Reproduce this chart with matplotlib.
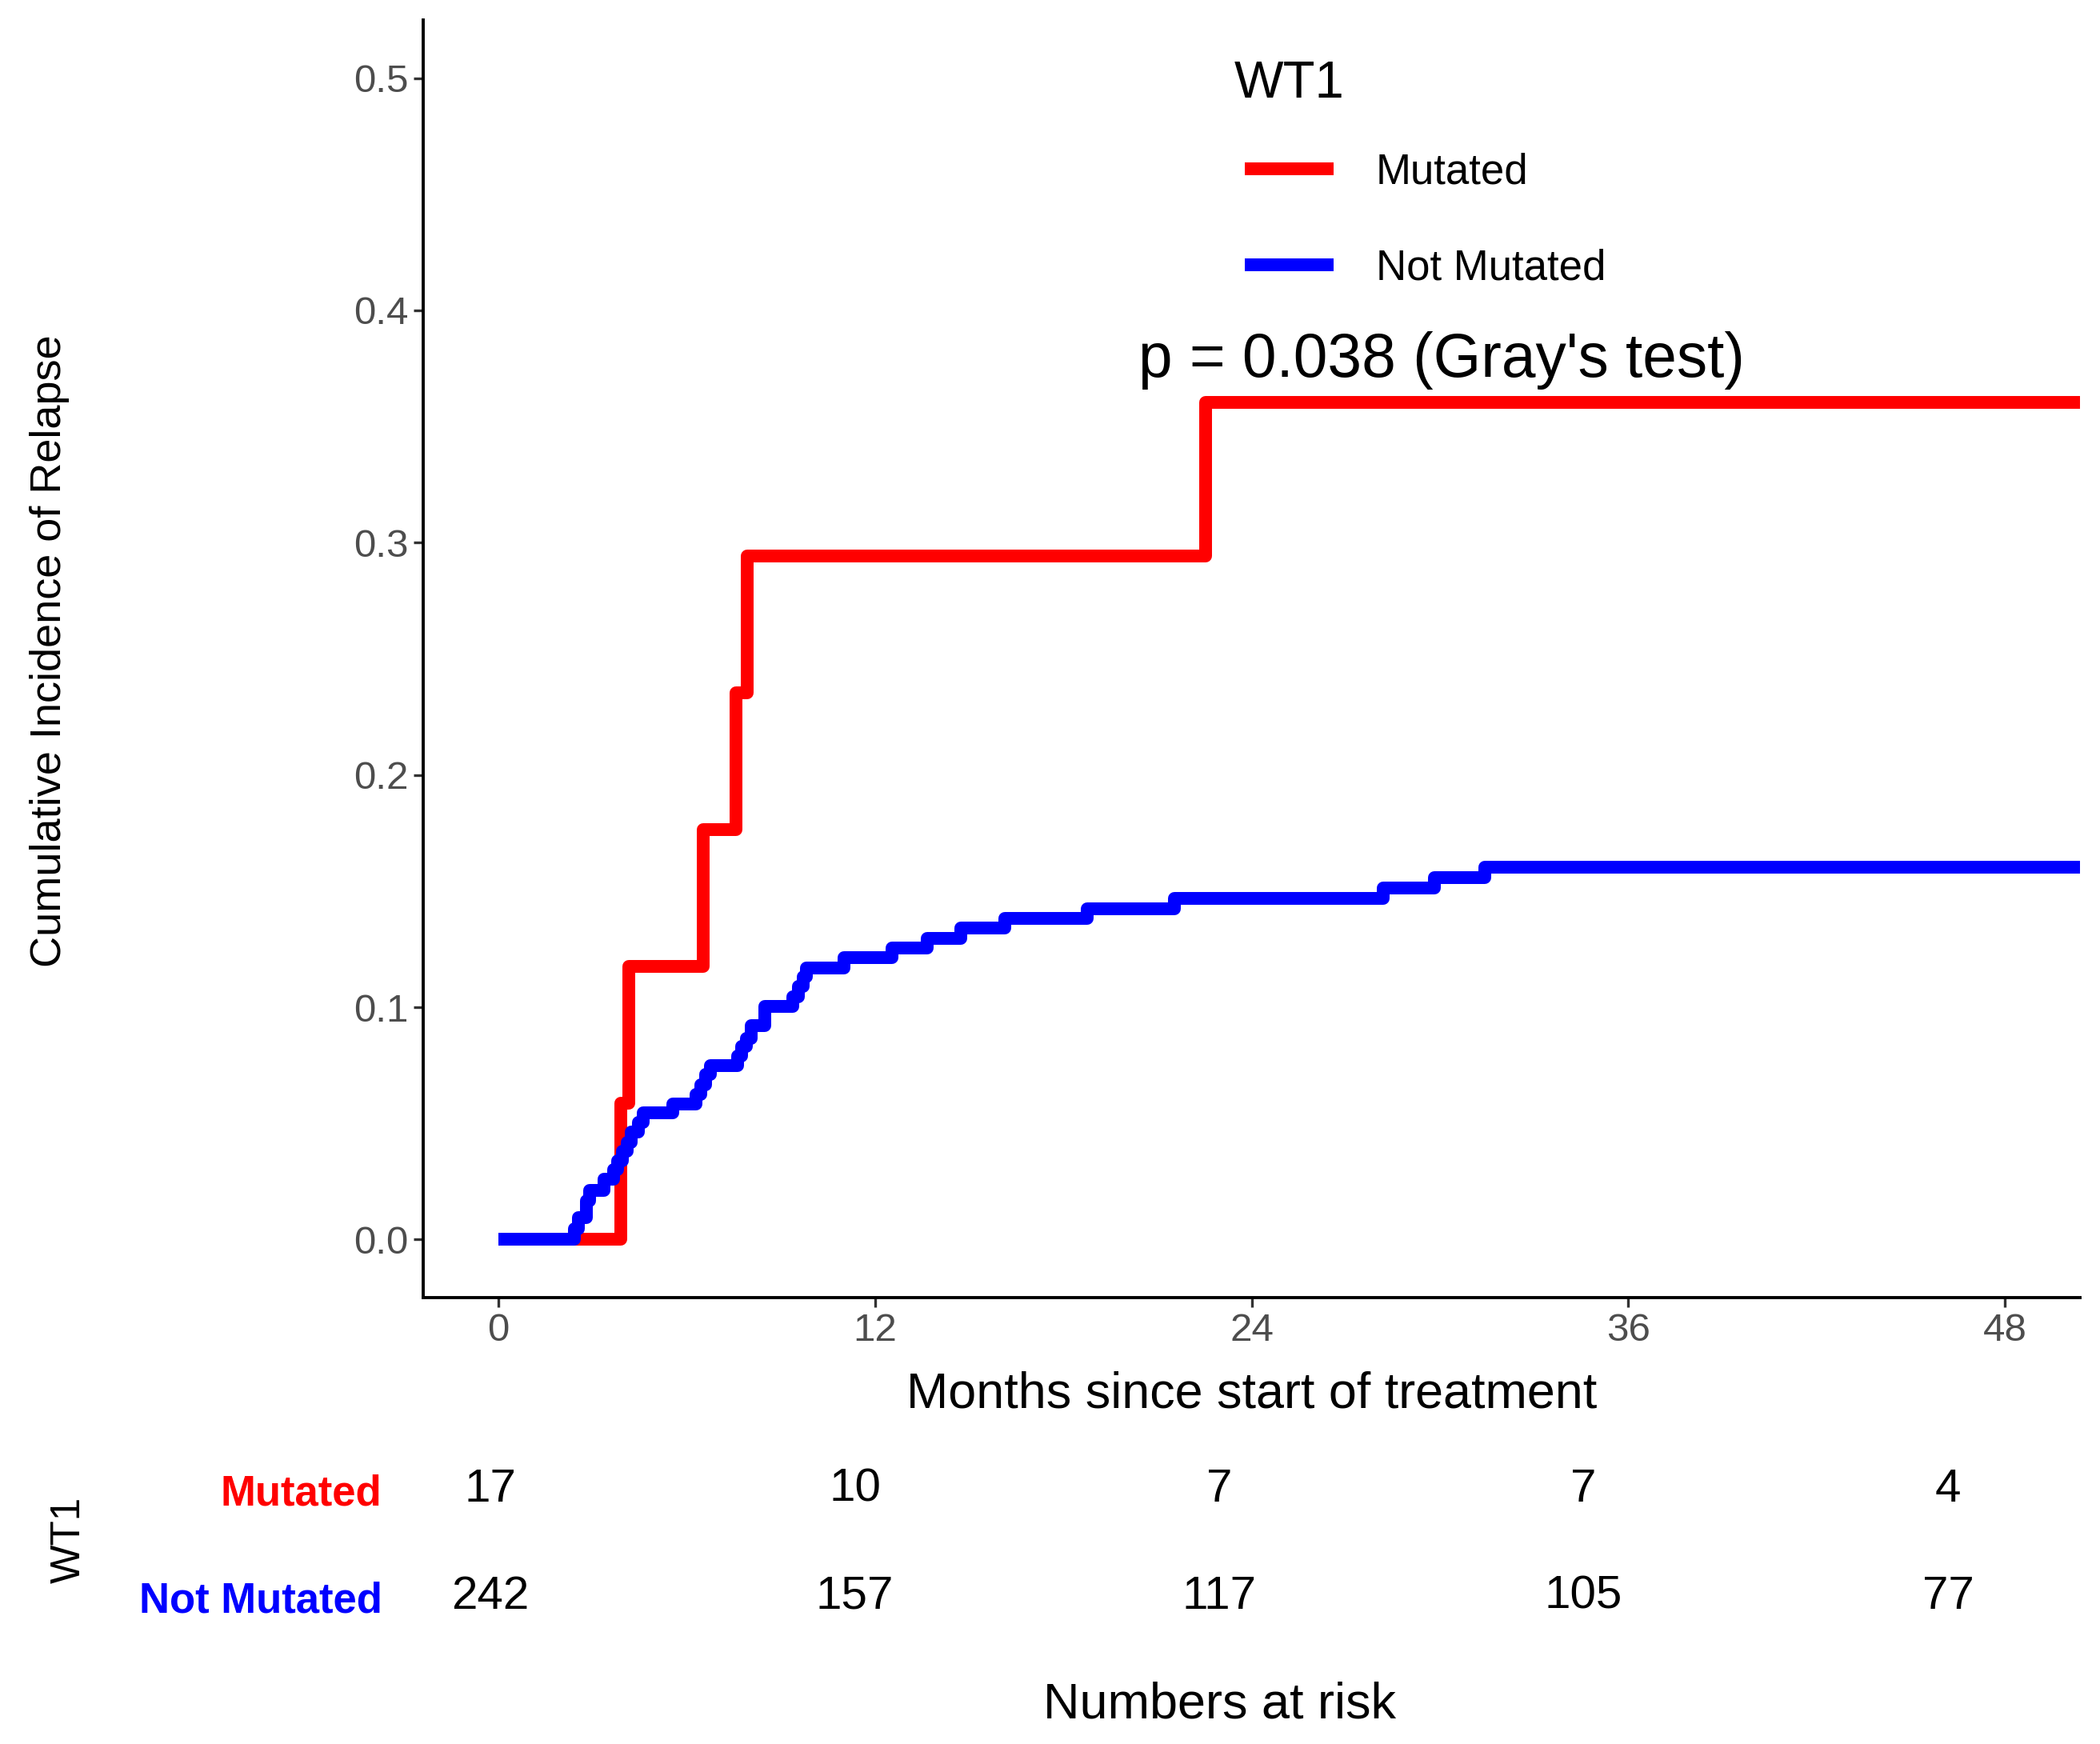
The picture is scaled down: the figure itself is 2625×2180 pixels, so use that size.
import matplotlib
matplotlib.use("Agg")
import matplotlib.pyplot as plt

plt.rcParams['font.family'] = ['Liberation Sans', 'DejaVu Sans']

# ---------------- data ----------------
groups = ["Mutated", "Not Mutated"]
colors = ["#FF0000", "#0000FF"]

mut_times = [0, 3.9, 4.15, 6.52, 7.58, 7.92, 22.53, 52]
mut_cif = [0.0, 0.0588, 0.1176, 0.1765, 0.2353, 0.2941, 0.3603, 0.3603]

notmut_times = [0, 2.42, 2.55, 2.80, 2.90, 3.37, 3.66, 3.80, 3.95, 4.10, 4.24,
                4.45, 4.61, 5.56, 6.30, 6.45, 6.60, 6.75, 7.61, 7.75, 7.90,
                8.05, 8.49, 9.37, 9.55, 9.70, 9.81, 11.0, 12.55, 13.65, 14.74,
                16.14, 18.77, 21.55, 28.2, 29.83, 31.44, 52]
notmut_cif = [0.0, 0.0046, 0.0093, 0.0165, 0.0213, 0.0259, 0.0300, 0.0340,
              0.0380, 0.0419, 0.0464, 0.0505, 0.0545, 0.0585, 0.0625, 0.0667,
              0.0710, 0.0750, 0.0790, 0.0830, 0.0865, 0.0922, 0.1002, 0.1045,
              0.1090, 0.1130, 0.1168, 0.1214, 0.1256, 0.1297, 0.1340, 0.1383,
              0.1425, 0.1469, 0.1514, 0.1557, 0.1603, 0.1603]

risk_times = [0, 12, 24, 36, 48]
risk_mut = [17, 10, 7, 7, 4]
risk_notmut = [242, 157, 117, 105, 77]

x_ticks = [0, 12, 24, 36, 48]
y_ticks = [0.0, 0.1, 0.2, 0.3, 0.4, 0.5]
p_text = "p = 0.038 (Gray's test)"
legend_title = "WT1"

# ---------------- figure ----------------
W, H = 2625, 2180
fig = plt.figure(figsize=(W / 100, H / 100), dpi=100)

ax = fig.add_axes([529 / W, 1 - 1622 / H, (2600 - 529) / W, (1622 - 25) / H])
lw = 11.5
l1, = ax.step(mut_times, mut_cif, where='post', color=colors[0], lw=lw,
              solid_joinstyle='round', solid_capstyle='butt', label=groups[0])
l2, = ax.step(notmut_times, notmut_cif, where='post', color=colors[1], lw=lw,
              solid_joinstyle='round', solid_capstyle='butt', label=groups[1])

ax.set_xlim(-2.4, 50.4)
ax.set_ylim(-0.025, 0.525)
ax.set_xticks(x_ticks)
ax.set_xticklabels([str(t) for t in x_ticks])
ax.set_yticks(y_ticks)
ax.set_yticklabels([f"{v:.1f}" for v in y_ticks])
for s in ['top', 'right']:
    ax.spines[s].set_visible(False)
for s in ['left', 'bottom']:
    ax.spines[s].set_linewidth(2.8)
    ax.spines[s].set_color('black')
ax.tick_params(axis='both', length=8.5, width=2.4, color='#333333',
               labelcolor='#4D4D4D', labelsize=35.5, pad=5)

ax.set_xlabel("Months since start of treatment", fontsize=45.3)
ax.xaxis.set_label_coords(0.5, -0.076)
ax.xaxis.label.set_va('center')
ax.set_ylabel("Cumulative Incidence of Relapse", fontsize=39)
ax.yaxis.set_label_coords(-0.2255, 0.506)
ax.yaxis.label.set_va('center')

ax.text(30.05, 0.3785, p_text, ha='center', va='center', fontsize=55.2)

# legend (title drawn as separate text for exact spacing)
fig.text(1543 / W, 1 - 105 / H, legend_title, ha='left', va='center', fontsize=47)
leg = ax.legend(handles=[l1, l2], loc='upper left',
                bbox_to_anchor=(1530 / W, 1 - 164 / H), bbox_transform=fig.transFigure,
                frameon=False, fontsize=38, handlelength=2.1,
                handletextpad=1.0, labelspacing=1.335, borderpad=0)

# ---------------- risk table ----------------
tab = fig.add_axes([522 / W, 1 - 2060 / H, (2526 - 522) / W, 270 / H])
tab.set_xlim(-2.4, 50.4)
tab.set_ylim(-0.478, 1.537)
for t, n in zip(risk_times, risk_mut):
    tab.text(t, 1, str(n), ha='center', va='center', fontsize=42)
for t, n in zip(risk_times, risk_notmut):
    tab.text(t, 0, str(n), ha='center', va='center', fontsize=42)
tab.set_xticks([])
tab.set_yticks([1, 0])
tab.set_yticklabels(groups, fontsize=38, fontweight='bold')
for lab, c in zip(tab.get_yticklabels(), colors):
    lab.set_color(c)
tab.tick_params(axis='y', length=0, pad=32)
for s in tab.spines.values():
    s.set_visible(False)
tab.set_ylabel("WT1", fontsize=37)
tab.yaxis.set_label_coords((86 - 522) / 2004, 0.5)
tab.yaxis.label.set_va('center')
tab.set_xlabel("Numbers at risk", fontsize=45.4)
tab.xaxis.set_label_coords(0.5, (2060 - 2131) / 270)
tab.xaxis.label.set_va('center')

fig.savefig("out.png", dpi=100, facecolor='white')
